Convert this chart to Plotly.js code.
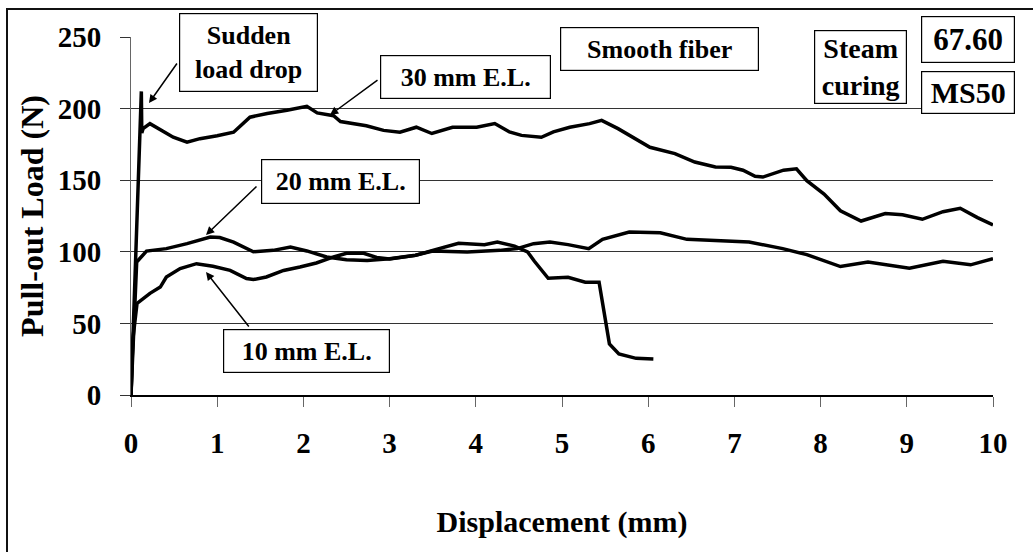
<!DOCTYPE html>
<html>
<head>
<meta charset="utf-8">
<script src="https://cdn.plot.ly/plotly-3.0.1.min.js"></script>
<style>html,body{margin:0;padding:0;background:#fff;}#chart{width:1033px;height:552px;}</style>
</head>
<body>
<div id="chart"></div>
<script>
// ---- data ----
const disp30 = [0, 0.04, 0.085, 0.12, 0.125, 0.14, 0.22, 0.34, 0.49, 0.65, 0.8, 1.0, 1.19, 1.38, 1.58, 1.81, 2.04, 2.16, 2.35, 2.43, 2.73, 2.93, 3.12, 3.31, 3.49, 3.73, 4.01, 4.22, 4.39, 4.53, 4.76, 4.9, 5.09, 5.32, 5.46, 5.65, 5.84, 6.02, 6.31, 6.54, 6.78, 6.96, 7.1, 7.24, 7.33, 7.57, 7.72, 7.84, 8.04, 8.23, 8.47, 8.75, 8.95, 9.18, 9.42, 9.62, 9.82, 10.0];
const load30 = [0, 70, 150, 212, 183, 186, 189.5, 185, 180, 176.5, 179, 181, 183.5, 194, 196.6, 198.8, 201.6, 197, 195, 191, 188, 184.8, 183.5, 187, 182.6, 187, 187, 189.6, 183.7, 181.3, 180, 183.7, 187, 189.5, 191.8, 186, 179, 173, 168.6, 162.7, 159.2, 159, 157, 152.7, 152.2, 157, 158, 149.7, 140.3, 128.6, 121.5, 126.7, 125.8, 122.7, 128, 130.4, 123.9, 118.7];

const disp20 = [0, 0.03, 0.066, 0.18, 0.41, 0.65, 0.92, 1.03, 1.19, 1.42, 1.65, 1.85, 2.04, 2.27, 2.5, 2.74, 2.9, 3.0, 3.3, 3.5, 3.9, 4.28, 4.48, 4.67, 4.86, 5.07, 5.31, 5.47, 5.78, 6.14, 6.45, 6.85, 7.17, 7.56, 7.84, 8.23, 8.55, 9.03, 9.42, 9.74, 10.0];
const load20 = [0, 45, 92.9, 100.5, 102.2, 105.7, 110.3, 110, 106.8, 100, 101, 103.4, 100.6, 96.4, 94.5, 94, 94.5, 95.2, 97.6, 100.5, 99.9, 101, 102.2, 105.7, 106.8, 105, 102.2, 108.7, 113.8, 113.3, 108.7, 107.9, 106.9, 102.2, 98, 89.7, 92.8, 88.6, 93.4, 90.9, 95.2];

const disp10 = [0, 0.02, 0.07, 0.22, 0.34, 0.41, 0.57, 0.76, 0.95, 1.15, 1.34, 1.42, 1.57, 1.77, 1.96, 2.15, 2.35, 2.5, 2.7, 2.85, 3.0, 3.3, 3.5, 3.8, 4.1, 4.25, 4.45, 4.6, 4.68, 4.84, 5.07, 5.27, 5.43, 5.47, 5.51, 5.55, 5.66, 5.86, 6.06];
const load10 = [0, 38, 64, 71, 75.4, 82.4, 88.3, 91.7, 89.9, 87, 81.3, 80.6, 82.4, 87, 89.4, 92.2, 96.4, 99, 99, 96, 95, 97.5, 101, 106, 105, 106.8, 104, 100, 93.4, 81.5, 82.2, 78.7, 78.7, 65, 48.7, 35.7, 28.6, 25.6, 25.1];

const xTicks = [0, 1, 2, 3, 4, 5, 6, 7, 8, 9, 10];
const yTicks = [0, 50, 100, 150, 200, 250];

// ---- geometry helpers (pixel -> data/paper) ----
const M = {l: 131, r: 40, t: 37, b: 157};
const W = 1033, H = 552;
const pw = W - M.l - M.r, ph = H - M.t - M.b;
const X = px => (px - M.l) / pw * 10;
const Y = py => (H - M.b - py) / ph * 250;
const PX = px => (px - M.l) / pw;
const PY = py => (H - M.b - py) / ph;

const FONT = '"Liberation Serif", "Times New Roman", Times, "DejaVu Serif", serif';
const lineStyle = {color: '#000', width: 3.5};

const traces = [
  {x: disp30, y: load30, mode: 'lines', line: lineStyle, name: '30 mm E.L.'},
  {x: disp20, y: load20, mode: 'lines', line: lineStyle, name: '20 mm E.L.'},
  {x: disp10, y: load10, mode: 'lines', line: lineStyle, name: '10 mm E.L.'}
];

function box(text, x0, y0, x1, y1, size) {
  return {
    text: '<b>' + text + '</b>', xref: 'x', yref: 'y', x: X((x0 + x1) / 2), y: Y((y0 + y1) / 2),
    xanchor: 'center', yanchor: 'middle', showarrow: false,
    width: x1 - x0 - 2, height: y1 - y0 - 2, borderpad: 0,
    bgcolor: '#fff', bordercolor: '#000', borderwidth: 1.2,
    font: {family: FONT, size: size || 26, color: '#000'}, align: 'center'
  };
}
function arrow(tx, ty, hx, hy) {
  return {
    text: '', xref: 'x', yref: 'y', axref: 'x', ayref: 'y',
    x: X(hx), y: Y(hy), ax: X(tx), ay: Y(ty), showarrow: true,
    arrowhead: 2, arrowsize: 1.1, arrowwidth: 1.5, arrowcolor: '#000', standoff: 0
  };
}

const annotations = [
  arrow(178, 62, 149, 103),
  arrow(379, 79, 330, 115),
  arrow(258, 185, 206, 235),
  arrow(250, 328, 206, 272),
  box('Sudden<br>load drop', 179, 13, 318, 92),
  box('30 mm E.L.', 380, 55, 551, 99),
  box('Smooth fiber', 560, 27, 759, 71),
  box('Steam<br>curing', 814, 30, 907, 104, 28),
  box('67.60', 921, 16, 1015, 63, 31),
  box('MS50', 921, 71, 1015, 114, 30),
  box('20 mm E.L.', 261, 159, 420, 204),
  box('10 mm E.L.', 223, 329, 390, 373)
];

const layout = {
  width: W, height: H,
  margin: M,
  paper_bgcolor: '#fff', plot_bgcolor: '#fff',
  showlegend: false,
  font: {family: FONT, color: '#000'},
  xaxis: {
    range: [0, 10], tickvals: xTicks, ticktext: xTicks.map(v => '<b>' + v + '</b>'),
    showgrid: false, zeroline: false,
    showline: true, linecolor: '#000', linewidth: 1.5,
    ticks: 'outside', ticklen: 10, tickcolor: '#666', tickwidth: 1,
    tickfont: {family: FONT, size: 29, color: '#000'},
    ticklabelstandoff: 12,
    title: {text: '<b>Displacement (mm)</b>', font: {family: FONT, size: 30, color: '#000'}, standoff: 52},
    automargin: false, fixedrange: true
  },
  yaxis: {
    range: [0, 250], tickvals: yTicks, ticktext: yTicks.map(v => '<b>' + v + '</b>'),
    showgrid: true, gridcolor: '#333', gridwidth: 1, zeroline: false,
    showline: true, linecolor: '#666', linewidth: 1,
    ticks: 'outside', ticklen: 10, tickcolor: '#333', tickwidth: 1,
    tickfont: {family: FONT, size: 29, color: '#000'},
    ticklabelstandoff: 13,
    title: {text: '<b>Pull-out Load (N)</b>', font: {family: FONT, size: 32, color: '#000'}, standoff: 4},
    automargin: false, fixedrange: true
  },
  annotations: annotations,
  shapes: [
    {type: 'rect', xref: 'paper', yref: 'paper', layer: 'below',
     x0: PX(7), x1: PX(1060), y0: PY(600), y1: PY(9),
     line: {color: '#111', width: 2}, fillcolor: 'rgba(0,0,0,0)'}
  ]
};

Plotly.newPlot('chart', traces, layout, {staticPlot: true, displayModeBar: false});
</script>
</body>
</html>
